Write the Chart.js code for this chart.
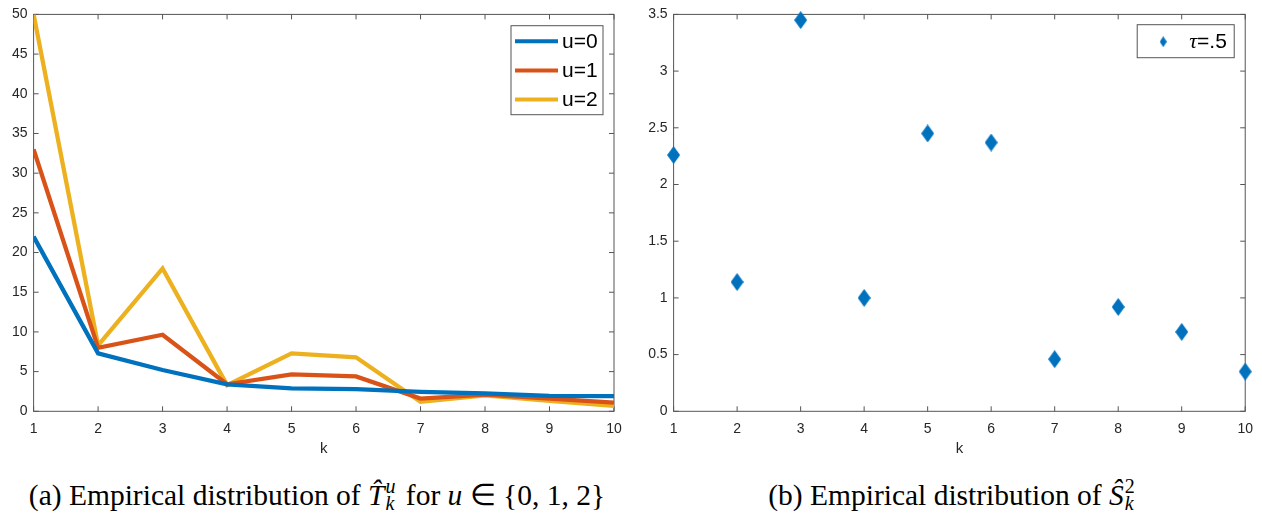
<!DOCTYPE html>
<html>
<head>
<meta charset="utf-8">
<script src="https://cdn.jsdelivr.net/npm/chart.js@4.4.1/dist/chart.umd.min.js"></script>
<style>
  body { margin: 0; background: #fff; width: 1262px; height: 513px; position: relative; overflow: hidden; }
  canvas { position: absolute; top: 0; }
  #chartA { left: 0; }
  #chartB { left: 640px; }
  .cap { position: absolute; top: 475px; font-family: 'Liberation Serif', 'Times New Roman', serif;
         font-size: 29.5px; color: #000; white-space: nowrap; transform: translateX(-50%); line-height: 30px; }
  .ss { display: inline-block; position: relative; width: 14px; height: 1em; vertical-align: baseline; }
  .ss > span { position: absolute; left: 1px; font-size: 20px; line-height: 20px; }
  .ss .up { top: 1px; }
  .ss .dn { top: 18px; }
</style>
</head>
<body>
<canvas id="chartA" width="640" height="470"></canvas>
<canvas id="chartB" width="622" height="470"></canvas>
<div class="cap" style="left:317px">(a) Empirical distribution of <i>T&#770;</i><span class="ss"><span class="up"><i>u</i></span><span class="dn"><i>k</i></span></span> for <i>u</i> &isin; {0, 1, 2}</div>
<div class="cap" style="left:953px">(b) Empirical distribution of <i>&Scirc;</i><span class="ss"><span class="up">2</span><span class="dn"><i>k</i></span></span></div>
<script>
// --- data ---
const ks = [1, 2, 3, 4, 5, 6, 7, 8, 9, 10];
const seriesLabels = ['u=0', 'u=1', 'u=2'];
const u0 = [22, 7.3, 5.2, 3.4, 2.9, 2.8, 2.45, 2.25, 1.95, 1.9];
const u1 = [33, 8.0, 9.65, 3.4, 4.65, 4.4, 1.6, 2.1, 1.6, 1.1];
const u2 = [50, 8.3, 18, 3.3, 7.3, 6.8, 1.2, 2.0, 1.3, 0.7];
const scatterLabel = '\u03c4=.5';
const sHat = [2.26, 1.14, 3.45, 1.0, 2.45, 2.37, 0.46, 0.92, 0.70, 0.35];
const xTicks = [1, 2, 3, 4, 5, 6, 7, 8, 9, 10];
const yTicksA = [0, 5, 10, 15, 20, 25, 30, 35, 40, 45, 50];
const yTicksB = [0, 0.5, 1, 1.5, 2, 2.5, 3, 3.5];

const COLORS = ['#0072BD', '#D95319', '#EDB120'];
const AXIS = '#555';
const TICK_FONT = { family: "'Liberation Sans', Arial, sans-serif", size: 14 };

// Filled diamond used as point style (taller than wide, like MATLAB's 'd')
function diamond(w, h, color) {
  const c = document.createElement('canvas');
  c.width = w; c.height = h;
  const g = c.getContext('2d');
  g.fillStyle = color;
  g.beginPath();
  g.moveTo(w / 2, 0); g.lineTo(w, h / 2); g.lineTo(w / 2, h); g.lineTo(0, h / 2);
  g.closePath(); g.fill();
  return c;
}

// Box around the plot area with inward ticks on all four sides
const boxAxes = {
  id: 'boxAxes',
  beforeDatasetsDraw(chart) {
    const { ctx, chartArea: a, scales: { x, y } } = chart;
    ctx.save();
    ctx.strokeStyle = AXIS;
    ctx.lineWidth = 1;
    ctx.strokeRect(a.left, a.top, a.right - a.left, a.bottom - a.top);
    ctx.beginPath();
    x.ticks.forEach(t => {
      const px = x.getPixelForValue(t.value);
      ctx.moveTo(px, a.bottom); ctx.lineTo(px, a.bottom - 5);
      ctx.moveTo(px, a.top); ctx.lineTo(px, a.top + 5);
    });
    y.ticks.forEach(t => {
      const py = y.getPixelForValue(t.value);
      ctx.moveTo(a.left, py); ctx.lineTo(a.left + 5, py);
      ctx.moveTo(a.right, py); ctx.lineTo(a.right - 5, py);
    });
    ctx.stroke();
    ctx.restore();
  }
};

// Boxed legend in the top-right corner of the plot area
const boxLegend = {
  id: 'boxLegend',
  afterDraw(chart, args, o) {
    const { ctx, chartArea: a } = chart;
    const left = a.right - o.right - o.width, top = a.top + o.top;
    ctx.save();
    ctx.fillStyle = '#fff';
    ctx.fillRect(left, top, o.width, o.height);
    ctx.strokeStyle = AXIS;
    ctx.lineWidth = 1;
    ctx.strokeRect(left, top, o.width, o.height);
    ctx.textBaseline = 'middle';
    chart.data.datasets.forEach((ds, i) => {
      const cy = top + o.firstRow + i * o.rowH;
      if (ds.showLine === false) {
        ctx.drawImage(o.marker, left + o.sampleX - o.marker.width / 2, cy - o.marker.height / 2);
      } else {
        ctx.strokeStyle = ds.borderColor;
        ctx.lineWidth = 4;
        ctx.beginPath();
        ctx.moveTo(left + o.sampleX, cy); ctx.lineTo(left + o.sampleX + o.sampleW, cy);
        ctx.stroke();
      }
      let tx = left + o.textX;
      ctx.fillStyle = '#000';
      for (const ch of ds.label) {
        ctx.font = /[\u0370-\u03ff]/.test(ch) ? "italic 22px 'Liberation Serif', serif" : "21px 'Liberation Sans', Arial, sans-serif";
        ctx.fillText(ch, tx, cy + 1);
        tx += ctx.measureText(ch).width;
      }
    });
    ctx.restore();
  }
};

function fixedTicks(arr) {
  return scale => { scale.ticks = arr.map(v => ({ value: v })); };
}

function axes(yTicks, yMax) {
  return {
    x: {
      type: 'linear', min: 1, max: 10,
      afterBuildTicks: fixedTicks(xTicks),
      afterFit: s => { s.height = 58.7; },
      grid: { display: false, drawTicks: false },
      border: { display: false },
      ticks: { padding: 9, maxRotation: 0, autoSkip: false, font: TICK_FONT, color: '#262626', callback: v => String(v) },
      title: { display: true, text: 'k', color: '#262626', font: { family: TICK_FONT.family, size: 15 }, padding: { top: 0, bottom: 12 } }
    },
    y: {
      type: 'linear', min: 0, max: yMax,
      afterBuildTicks: fixedTicks(yTicks),
      afterFit: s => { s.width = 33.6; },
      grid: { display: false, drawTicks: false },
      border: { display: false },
      ticks: { padding: 6, autoSkip: false, font: TICK_FONT, color: '#262626', callback: v => String(v) }
    }
  };
}

new Chart(document.getElementById('chartA'), {
  type: 'line',
  data: {
    labels: ks,
    datasets: [u0, u1, u2].map((vals, i) => ({
      label: seriesLabels[i],
      data: ks.map((k, j) => ({ x: k, y: vals[j] })),
      borderColor: COLORS[i],
      borderWidth: 4.3,
      pointRadius: 0,
      tension: 0,
      fill: false
    }))
  },
  options: {
    responsive: false,
    animation: false,
    layout: { padding: { left: 0, top: 11.7, right: 26, bottom: 0 } },
    scales: axes(yTicksA, 50),
    plugins: {
      legend: { display: false },
      tooltip: { enabled: false },
      boxLegend: { right: 11, top: 11.3, width: 92, height: 89, firstRow: 15.5, rowH: 29.2, sampleX: 4, sampleW: 43, textX: 51 }
    }
  },
  plugins: [boxAxes, boxLegend]
});

new Chart(document.getElementById('chartB'), {
  type: 'scatter',
  data: {
    datasets: [{
      label: scatterLabel,
      data: ks.map((k, j) => ({ x: k, y: sHat[j] })),
      showLine: false,
      pointStyle: diamond(13, 18, COLORS[0]),
      backgroundColor: COLORS[0],
      clip: false
    }]
  },
  options: {
    responsive: false,
    animation: false,
    layout: { padding: { left: 0, top: 11.7, right: 11, bottom: 0 } },
    scales: axes(yTicksB, 3.5),
    plugins: {
      legend: { display: false },
      tooltip: { enabled: false },
      boxLegend: { right: 11, top: 10.3, width: 97, height: 33, firstRow: 17, rowH: 30, sampleX: 26, sampleW: 0, textX: 52, marker: diamond(7, 11, COLORS[0]) }
    }
  },
  plugins: [boxAxes, boxLegend]
});
</script>
</body>
</html>
